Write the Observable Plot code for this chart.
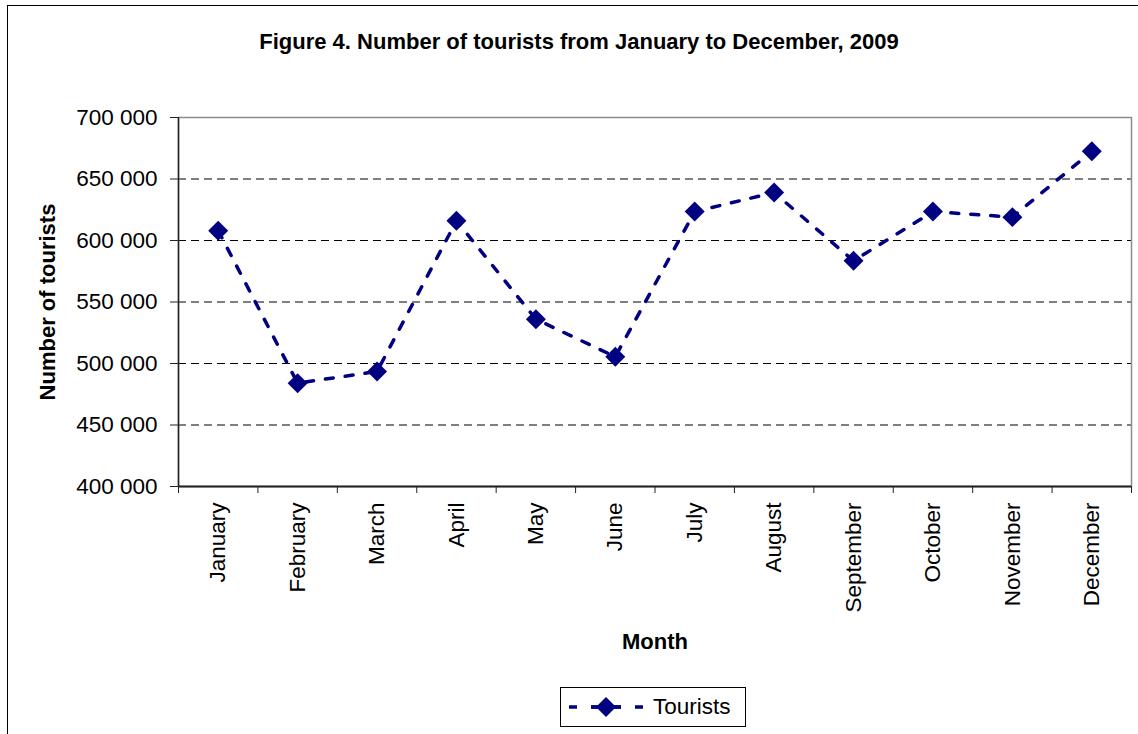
<!DOCTYPE html>
<html>
<head>
<meta charset="utf-8">
<script src="https://cdn.jsdelivr.net/npm/d3@7"></script>
<script src="https://cdn.jsdelivr.net/npm/@observablehq/plot@0.6"></script>
<style>
  html, body { margin: 0; padding: 0; background: #fff; }
  #wrap { position: relative; width: 1138px; height: 734px; overflow: hidden; font-family: "Liberation Sans", Arial, sans-serif; }
  #frame { position: absolute; left: 7px; top: 5px; width: 1300px; height: 900px; border: 1.5px solid #000; box-sizing: border-box; }
  #title { position: absolute; left: 8px; top: 30px; width: 1142px; text-align: center; font-weight: bold; font-size: 22px; line-height: 24px; color: #000; }
  #chart { position: absolute; left: 0; top: 90px; }
  #legend { position: absolute; left: 560px; top: 687px; width: 186px; height: 40px; border: 1px solid #000; box-sizing: border-box; display: flex; align-items: center; font-size: 22.5px; color: #000; }
  #legend svg { display: block; margin-left: 6px; }
  #legend span { margin-left: 6px; }
</style>
</head>
<body>
<div id="wrap">
  <div id="frame"></div>
  <div id="title">Figure 4. Number of tourists from January to December, 2009</div>
  <div id="chart"></div>
  <div id="legend">
    <svg width="80" height="24" viewBox="0 0 80 24">
      <line x1="2" y1="12" x2="78" y2="12" stroke="#000080" stroke-width="3.5" stroke-dasharray="8,14"></line>
      <line x1="24" y1="12" x2="54" y2="12" stroke="#000080" stroke-width="3.5"></line>
      <path d="M39,2 L49,12 L39,22 L29,12 Z" fill="#000080"></path>
    </svg>
    <span>Tourists</span>
  </div>
</div>
<script>
const months = ["January", "February", "March", "April", "May", "June", "July", "August", "September", "October", "November", "December"];
const tourists = [608000, 484000, 493500, 616000, 536000, 505500, 623500, 639000, 583500, 623500, 619000, 672500];
const yTicks = [400000, 450000, 500000, 550000, 600000, 650000, 700000];
const seriesName = "Tourists";
const yTitle = "Number of tourists";
const xTitle = "Month";

const data = months.map((m, i) => ({month: m, pos: i + 0.5, value: tourists[i], series: seriesName}));
const monthCenters = months.map((m, i) => i + 0.5);
const monthBounds = d3.range(months.length + 1);
const gridTicks = yTicks.slice(1, -1);
const fmt = d => d3.format(",")(d).replace(/,/g, " ");

const chart = Plot.plot({
  width: 1138,
  height: 580,
  marginLeft: 178,
  marginRight: 7,
  marginTop: 27,
  marginBottom: 184,
  style: {fontFamily: '"Liberation Sans", Arial, sans-serif', fontSize: "22.5px", color: "#000", background: "transparent", overflow: "visible"},
  x: {type: "linear", domain: [0, months.length], axis: null},
  y: {domain: [yTicks[0], yTicks[yTicks.length - 1]], axis: null},
  marks: [
    Plot.ruleY(gridTicks, {stroke: "#000", strokeWidth: 1.2, strokeDasharray: "8,5"}),
    Plot.frame({stroke: "#8c8c8c", strokeWidth: 1.5}),
    Plot.ruleX([0], {stroke: "#222", strokeWidth: 1.5}),
    Plot.ruleY([yTicks[0]], {stroke: "#222", strokeWidth: 1.8}),
    Plot.axisY({ticks: yTicks, tickSize: 8, tickPadding: 13, tickFormat: fmt, fontSize: "22.5px", stroke: "#222", label: null}),
    Plot.axisX({ticks: monthBounds, tickSize: 7, tickFormat: () => "", stroke: "#222", label: null}),
    Plot.axisX({ticks: monthCenters, tickSize: 0, tickPadding: 16, tickRotate: -90, tickFormat: d => months[Math.floor(d)], fontSize: "22.5px", label: null}),
    Plot.line(data, {x: "pos", y: "value", stroke: "#000080", strokeWidth: 3.5, strokeDasharray: "8,12"}),
    Plot.dot(data, {x: "pos", y: "value", symbol: "diamond2", r: 9, fill: "#000080", stroke: "none"}),
    Plot.text([yTitle], {text: d => d, frameAnchor: "left", textAnchor: "middle", dx: -131, rotate: -90, fontWeight: "bold", fontSize: 22, fill: "#000"}),
    Plot.text([xTitle], {text: d => d, frameAnchor: "bottom", dy: 162, fontWeight: "bold", fontSize: 22, fill: "#000"})
  ]
});
document.getElementById("chart").appendChild(chart);
</script>
</body>
</html>
